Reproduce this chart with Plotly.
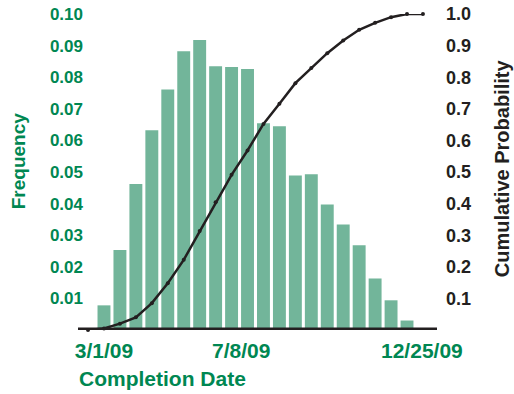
import plotly.graph_objects as go

# ---- data ----
bar_dates = ["2009-03-01", "2009-03-16", "2009-03-31", "2009-04-15", "2009-04-30",
             "2009-05-15", "2009-05-30", "2009-06-14", "2009-06-29", "2009-07-14",
             "2009-07-29", "2009-08-13", "2009-08-28", "2009-09-12", "2009-09-27",
             "2009-10-12", "2009-10-27", "2009-11-11", "2009-11-26", "2009-12-11"]
frequency = [0.0078, 0.0253, 0.0462, 0.0632, 0.0761, 0.0882, 0.0918, 0.0835, 0.0832, 0.0826,
             0.0654, 0.0645, 0.0489, 0.0493, 0.0397, 0.0334, 0.0268, 0.0163, 0.0094, 0.0030]

cum_dates = ["2009-02-14"] + bar_dates + ["2009-12-26"]
cum_prob = [0.0, 0.005, 0.020, 0.040, 0.085, 0.148, 0.222, 0.313, 0.404, 0.491, 0.568,
            0.652, 0.716, 0.781, 0.829, 0.876, 0.916, 0.950, 0.972, 0.990, 1.0, 1.0]

x_tick_vals = ["2009-03-01", "2009-07-08", "2009-12-25"]
x_tick_text = ["3/1/09", "7/8/09", "12/25/09"]
freq_ticks = [0.01, 0.02, 0.03, 0.04, 0.05, 0.06, 0.07, 0.08, 0.09, 0.10]
freq_tick_text = ["0.01", "0.02", "0.03", "0.04", "0.05", "0.06", "0.07", "0.08", "0.09", "0.10"]
prob_ticks = [0.1, 0.2, 0.3, 0.4, 0.5, 0.6, 0.7, 0.8, 0.9, 1.0]
prob_tick_text = ["0.1", "0.2", "0.3", "0.4", "0.5", "0.6", "0.7", "0.8", "0.9", "1.0"]

GREEN = "#008752"
BAR = "#72B59A"
DARK = "#231F20"
FONT = "Liberation Sans, Arial, sans-serif"

fig = go.Figure()
fig.add_trace(go.Bar(x=bar_dates, y=frequency, marker=dict(color=BAR, line=dict(width=0)),
                     yaxis="y"))
fig.add_trace(go.Scatter(x=cum_dates, y=cum_prob, yaxis="y2", mode="lines+markers",
                         line=dict(color=DARK, width=2.5), marker=dict(color=DARK, size=4),
                         cliponaxis=False))

fig.update_layout(
    width=514, height=394,
    margin=dict(l=84, r=77, t=14, b=64, autoexpand=False),
    paper_bgcolor="white", plot_bgcolor="white",
    showlegend=False, bargap=0.19,
    font=dict(family=FONT),
    xaxis=dict(type="date", range=["2009-02-10 05:00", "2010-01-08 05:00"],
               tickvals=x_tick_vals, ticktext=x_tick_text, ticks="", automargin=False,
               tickfont=dict(size=21, color=GREEN, weight="bold"),
               showgrid=False, zeroline=False, showline=False, ticklabelstandoff=6),
    yaxis=dict(range=[0, 0.1], tickvals=freq_ticks, ticktext=freq_tick_text, ticks="",
               automargin=False,
               tickfont=dict(size=17, color=GREEN, weight="bold"),
               showgrid=False, zeroline=False, showline=False),
    yaxis2=dict(range=[0, 1.0], tickvals=prob_ticks, ticktext=prob_tick_text, ticks="",
                overlaying="y", side="right", automargin=False,
                tickfont=dict(size=18, color=DARK, weight="bold"),
                showgrid=False, zeroline=False, showline=False, ticklabelstandoff=8),
    shapes=[dict(type="line", xref="paper", yref="y", x0=-0.017, x1=1.0, y0=0, y1=0,
                 line=dict(color=DARK, width=5), layer="above")],
    annotations=[
        dict(text="Frequency", xref="paper", yref="paper", x=-0.187, y=0.537,
             textangle=-90, showarrow=False, xanchor="center", yanchor="middle",
             font=dict(size=19, color=GREEN, weight="bold")),
        dict(text="Cumulative Probability", xref="paper", yref="paper", x=1.184, y=0.512,
             textangle=-90, showarrow=False, xanchor="center", yanchor="middle",
             font=dict(size=20, color=DARK, weight="bold")),
        dict(text="Completion Date", xref="paper", yref="paper", x=-0.02, y=-0.153,
             showarrow=False, xanchor="left", yanchor="middle",
             font=dict(size=21, color=GREEN, weight="bold")),
    ],
)

fig.write_html("out.html", config={"displayModeBar": False},
               post_script="document.body.style.margin='0px';")
